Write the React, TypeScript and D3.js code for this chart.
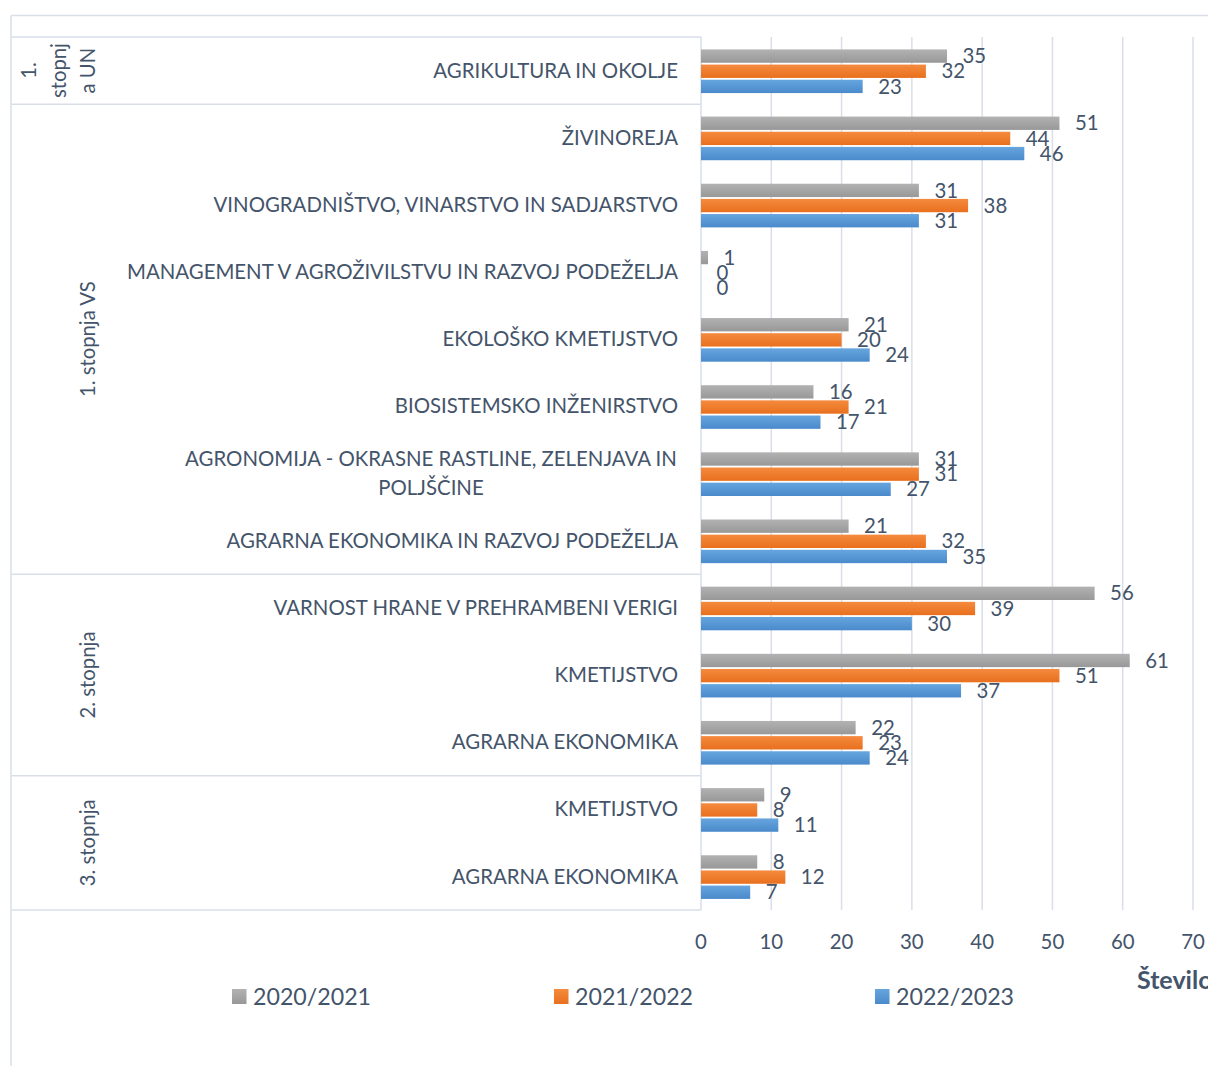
import React from "react";
import * as d3 from "d3";

const categories: string[][] = [
  ["AGRIKULTURA IN OKOLJE"],
  ["ŽIVINOREJA"],
  ["VINOGRADNIŠTVO, VINARSTVO IN SADJARSTVO"],
  ["MANAGEMENT V AGROŽIVILSTVU IN RAZVOJ PODEŽELJA"],
  ["EKOLOŠKO KMETIJSTVO"],
  ["BIOSISTEMSKO INŽENIRSTVO"],
  ["AGRONOMIJA - OKRASNE RASTLINE, ZELENJAVA IN", "POLJŠČINE"],
  ["AGRARNA EKONOMIKA IN RAZVOJ PODEŽELJA"],
  ["VARNOST HRANE V PREHRAMBENI VERIGI"],
  ["KMETIJSTVO"],
  ["AGRARNA EKONOMIKA"],
  ["KMETIJSTVO"],
  ["AGRARNA EKONOMIKA"],
];

const groupLabels: string[][] = [["1.", "stopnj", "a UN"], ["1. stopnja VS"], ["2. stopnja"], ["3. stopnja"]];
const groupSizes: number[] = [1, 7, 3, 2];

const seriesNames: string[] = ["2020/2021", "2021/2022", "2022/2023"];
const s2020: number[] = [35, 51, 31, 1, 21, 16, 31, 21, 56, 61, 22, 9, 8];
const s2021: number[] = [32, 44, 38, 0, 20, 21, 31, 32, 39, 51, 23, 8, 12];
const s2022: number[] = [23, 46, 31, 0, 24, 17, 27, 35, 30, 37, 24, 11, 7];
const xTicks: number[] = [0, 10, 20, 30, 40, 50, 60, 70];
const axisTitle = "Število";

const seriesValues = [s2020, s2021, s2022];
const gradStops = [
  ["#B2B2B2", "#989898"],
  ["#F58A3E", "#E8701E"],
  ["#66A5DE", "#4A8ACB"],
];

const W = 1208;
const H = 1066;
const plotTop = 37;
const plotBottom = 910;
const x0 = 701;
const tableLeft = 11;
const textColor = "#44546A";
const gridColor = "#D9DEE8";
const font = "Lato, 'Open Sans', sans-serif";

export default function App() {
  const x = d3.scaleLinear().domain([0, 70]).range([x0, x0 + 492]);
  const idx = categories.map((_, i) => i);
  const y = d3.scaleBand<number>().domain(idx).range([plotTop, plotBottom]).paddingInner(0).paddingOuter(0);
  const rowH = y.bandwidth();
  const inner = d3
    .scaleBand<number>()
    .domain([0, 1, 2])
    .range([rowH * 0.185, rowH * 0.835])
    .paddingInner(0.12);

  const bounds: number[] = [0];
  groupSizes.forEach((s, i) => bounds.push(bounds[i] + s));
  const yAt = (k: number) => (k < categories.length ? (y(k) as number) : plotBottom);

  return (
    <svg
      width={W}
      height={H}
      style={{ position: "absolute", left: 0, top: 0, background: "#fff" }}
      fontFamily={font}
    >
      <defs>
        {gradStops.map((g, i) => (
          <linearGradient key={i} id={`g${i}`} x1="0" y1="0" x2="0" y2="1">
            <stop offset="0" stopColor={g[0]} />
            <stop offset="1" stopColor={g[1]} />
          </linearGradient>
        ))}
      </defs>
      <line x1={tableLeft} x2={W} y1={15.5} y2={15.5} stroke={gridColor} strokeWidth={1.5} />
      <line x1={tableLeft} x2={tableLeft} y1={15.5} y2={H} stroke={gridColor} strokeWidth={1.5} />

      {xTicks.map((t) => (
        <line key={t} x1={x(t)} x2={x(t)} y1={plotTop} y2={plotBottom} stroke={gridColor} strokeWidth={1.5} />
      ))}

      {bounds.map((b, i) => (
        <line key={i} x1={tableLeft} x2={x0} y1={yAt(b)} y2={yAt(b)} stroke={gridColor} strokeWidth={1.5} />
      ))}

      {groupLabels.map((lines, gi) => {
        const cy = (yAt(bounds[gi]) + yAt(bounds[gi + 1])) / 2;
        const n = lines.length;
        const baseX = 88 - (n - 1) * 29.5;
        return lines.map((ln, li) => (
          <text
            key={`${gi}-${li}`}
            transform={`translate(${baseX + li * 29.5},${cy}) rotate(-90)`}
            textAnchor="middle"
            dy="0.35em"
            fontSize={20.3}
            fill={textColor}
          >
            {ln}
          </text>
        ));
      })}

      {categories.map((lines, i) => {
        const cy = (y(i) as number) + rowH / 2;
        const n = lines.length;
        return (
          <text key={i} fontSize={20.4} fill={textColor} textAnchor={n > 1 ? "middle" : "end"}>
            {lines.map((ln, li) => (
              <tspan key={li} x={n > 1 ? 431 : 678} y={cy + (li - (n - 1) / 2) * 29} dy="0.35em">
                {ln}
              </tspan>
            ))}
          </text>
        );
      })}

      {seriesValues.map((vals, si) =>
        vals.map((v, i) => {
          const by = (y(i) as number) + (inner(si) as number);
          return (
            <g key={`${si}-${i}`}>
              <rect x={x(0)} y={by} width={x(v) - x(0)} height={inner.bandwidth()} fill={`url(#g${si})`} />
              <text x={x(v) + 15.5} y={by + inner.bandwidth() / 2} dy="0.35em" fontSize={20.4} fill={textColor}>
                {v}
              </text>
            </g>
          );
        })
      )}

      {xTicks.map((t) => (
        <text key={t} x={x(t)} y={942} dy="0.35em" textAnchor="middle" fontSize={20.4} fill={textColor}>
          {t}
        </text>
      ))}
      <text x={1137} y={980} dy="0.35em" fontSize={25} fontWeight="bold" fill={textColor}>
        {axisTitle}
      </text>

      {seriesNames.map((name, i) => {
        const lx = [232, 554, 875][i];
        return (
          <g key={name}>
            <rect x={lx} y={989} width={14.5} height={15} fill={`url(#g${i})`} />
            <text x={lx + 21} y={996.5} dy="0.35em" fontSize={23.2} fill={textColor}>
              {name}
            </text>
          </g>
        );
      })}
    </svg>
  );
}
